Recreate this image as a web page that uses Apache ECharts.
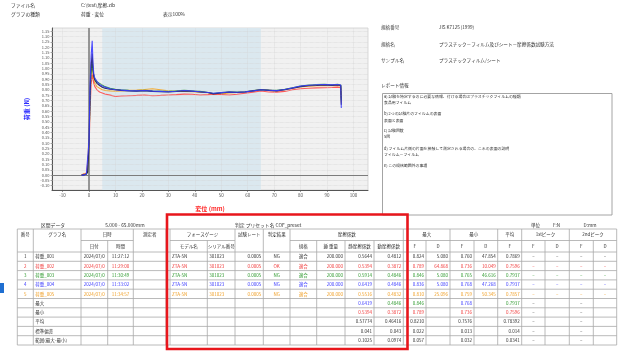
<!DOCTYPE html>
<html>
<head>
<meta charset="utf-8">
<script src="https://cdn.jsdelivr.net/npm/echarts@6/dist/echarts.min.js"></script>
<style>
html,body{margin:0;padding:0;background:#fff;}
#c{width:623px;height:352px;}
</style>
</head>
<body>
<div id="c"></div>
<script>
const FONT = '"Noto Sans CJK JP", "Noto Sans", sans-serif';

// ---- load / displacement traces ----
const disp = [-2.8, -2, -1, -0.5, 0, 0.4, 0.8, 1.2, 1.5, 1.8, 2.2, 3, 4, 5, 6, 8, 10, 12, 15, 18, 21, 24, 27, 30, 33, 36, 39, 42, 45, 47, 50, 53, 56, 59, 62, 65, 68, 71, 74, 77, 80, 83, 86, 89, 92, 94, 95.2, 95.4];
const load001 = [0.00, 0.00, 0.01, 0.03, 0.30, 0.78, 1.02, 1.14, 1.00, 0.93, 0.89, 0.86, 0.84, 0.824, 0.815, 0.805, 0.800, 0.795, 0.790, 0.788, 0.792, 0.785, 0.782, 0.780, 0.784, 0.790, 0.786, 0.780, 0.775, 0.762, 0.770, 0.778, 0.775, 0.780, 0.790, 0.800, 0.795, 0.790, 0.800, 0.815, 0.830, 0.838, 0.840, 0.845, 0.842, 0.845, 0.840, 0.660];
const load002 = [0.00, 0.01, 0.01, 0.02, 0.22, 0.62, 0.85, 0.95, 0.90, 0.86, 0.83, 0.80, 0.78, 0.770, 0.760, 0.750, 0.738, 0.742, 0.745, 0.748, 0.752, 0.745, 0.748, 0.752, 0.755, 0.760, 0.758, 0.752, 0.755, 0.760, 0.756, 0.752, 0.758, 0.768, 0.778, 0.789, 0.780, 0.778, 0.785, 0.800, 0.810, 0.815, 0.818, 0.820, 0.822, 0.825, 0.820, 0.720];
const load003 = [0.00, 0.00, 0.01, 0.03, 0.28, 0.74, 0.98, 1.06, 0.98, 0.93, 0.90, 0.875, 0.86, 0.846, 0.830, 0.815, 0.805, 0.800, 0.795, 0.792, 0.795, 0.790, 0.788, 0.785, 0.790, 0.795, 0.790, 0.785, 0.775, 0.765, 0.775, 0.780, 0.778, 0.782, 0.792, 0.800, 0.797, 0.795, 0.805, 0.820, 0.835, 0.845, 0.850, 0.852, 0.848, 0.852, 0.845, 0.700];
const load004 = [0.00, 0.00, 0.01, 0.02, 0.32, 0.85, 1.12, 1.26, 1.05, 0.95, 0.91, 0.88, 0.85, 0.836, 0.825, 0.810, 0.800, 0.797, 0.792, 0.790, 0.793, 0.788, 0.785, 0.782, 0.787, 0.793, 0.788, 0.782, 0.775, 0.768, 0.774, 0.779, 0.777, 0.781, 0.790, 0.800, 0.796, 0.792, 0.803, 0.818, 0.835, 0.843, 0.848, 0.850, 0.846, 0.850, 0.845, 0.630];
const load005 = [0.00, 0.01, 0.02, 0.05, 0.45, 0.88, 1.05, 1.10, 0.95, 0.89, 0.86, 0.83, 0.815, 0.800, 0.795, 0.790, 0.788, 0.790, 0.795, 0.798, 0.803, 0.810, 0.800, 0.790, 0.788, 0.785, 0.782, 0.778, 0.772, 0.765, 0.760, 0.770, 0.775, 0.780, 0.790, 0.800, 0.795, 0.790, 0.800, 0.815, 0.828, 0.835, 0.838, 0.840, 0.838, 0.840, 0.835, 0.680];

const graphNames = ['荷重_001', '荷重_002', '荷重_003', '荷重_004', '荷重_005'];
const traceColors = ['#1c1c3c', '#ff4a4a', '#2f9a2f', '#3a3aff', '#f5a623'];
const textColors = ['#333333', '#f03a3a', '#2f9a2f', '#3a3aff', '#f0a028'];

const xTicks = [-10, 0, 10, 20, 30, 40, 50, 60, 70, 80, 90, 100];
const yTicks = [-0.10, -0.05, 0.00, 0.05, 0.10, 0.15, 0.20, 0.25, 0.30, 0.35, 0.40, 0.45, 0.50, 0.55, 0.60, 0.65, 0.70, 0.75, 0.80, 0.85, 0.90, 0.95, 1.00, 1.05, 1.10, 1.15, 1.20, 1.25, 1.30, 1.35];
const bandRange = [5, 65];

// ---- header info ----
const fileInfo = [['ファイル名', 'C:\\test\\摩擦.zlb', ''], ['グラフの種類', '荷重 - 変位', '表示100%']];
const standardInfo = [['規格番号', 'JIS K7125 (1999)'], ['規格名', 'プラスチック－フィルム及びシート－摩擦係数試験方法'], ['サンプル名', 'プラスチックフィルム/シート']];
const reportTitle = 'レポート情報';
const reportLines = ['a) 試験を特定するのに必要な情報、付ける場合はプラスチックフィルムの種類', '食品用フィルム', 'b) 2つの試験片のフィルムの表面', '表面と表面', 'c) 試験回数', '5回', 'd) フィルム片側の片面を接触して測定される場合の、これの表面の説明', 'フィルム－フィルム', 'e) この規格範囲外の事項'];

// ---- result table ----
const sectionTitle = ['区間データ', '5.000 - 65.000mm'];
const presetTitle = '判定 プリセット名 COF_preset';
const unitTitle = ['単位', 'F:N', 'D:mm'];
const rowNo = ['1', '2', '3', '4', '5'];
const dates = ['2024/07/0', '2024/07/0', '2024/07/0', '2024/07/0', '2024/07/0'];
const times = ['11:27:12', '11:29:00', '11:30:49', '11:33:02', '11:34:57'];
const models = ['ZTA-5N', 'ZTA-5N', 'ZTA-5N', 'ZTA-5N', 'ZTA-5N'];
const serials = ['301023', '301023', '301023', '301023', '301023'];
const rates = ['0.0005', '0.0005', '0.0005', '0.0005', '0.0005'];
const judges = ['NG', 'OK', 'NG', 'NG', 'NG'];
const standards = ['適合', '適合', '適合', '適合', '適合'];
const weights = ['200.000', '200.000', '200.000', '200.000', '200.000'];
const staticCoef = ['0.5644', '0.5394', '0.5914', '0.6419', '0.5516'];
const kineticCoef = ['0.4812', '0.3872', '0.4846', '0.4846', '0.4832'];
const maxF = ['0.824', '0.789', '0.846', '0.836', '0.810'];
const maxD = ['5.080', '64.868', '5.080', '5.080', '25.096'];
const minF = ['0.760', '0.736', '0.765', '0.768', '0.759'];
const minD = ['47.854', '10.049', '46.616', '47.268', '50.345'];
const avgF = ['0.7869', '0.7596', '0.7937', '0.7937', '0.7857'];
const peak1F = ['–', '–', '–', '–', '–'];
const peak1D = ['–', '–', '–', '–', '–'];
const peak2F = ['–', '–', '–', '–', '–'];
const peak2D = ['–', '–', '–', '–', '–'];

const summaryLabels = ['最大', '最小', '平均', '標準偏差', '範囲(最大-最小)'];
const sumStatic = ['0.6419', '0.5394', '0.57774', '0.041', '0.1025'];
const sumKinetic = ['0.4846', '0.3872', '0.46416', '0.043', '0.0974'];
const sumMaxF = ['0.846', '0.789', '0.8210', '0.022', '0.057'];
const sumMinF = ['0.768', '0.736', '0.7576', '0.013', '0.032'];
const sumAvgF = ['0.7937', '0.7596', '0.78392', '0.014', '0.0341'];
const sumPeak1F = ['–', '–', '–', '–', '–'];
const sumPeak2F = ['–', '–', '–', '–', '–'];
// which trace each summary value comes from (colour), -1 = plain
const sumSource = {
  static: [3, 1, -1, -1, -1],
  kinetic: [2, 1, -1, -1, -1],
  maxF: [2, 1, -1, -1, -1],
  minF: [3, 1, -1, -1, -1],
  avgF: [2, 1, -1, -1, -1]
};

const headRow1 = [['番号', 0, 1], ['グラフ名', 1, 2], ['日時', 2, 4], ['測定者', 4, 5], ['フォースゲージ', 6, 8], ['試験レート', 8, 9], ['判定結果', 9, 10], ['摩擦係数', 10, 14], ['最大', 14, 16], ['最小', 16, 18], ['平均', 18, 19], ['1stピーク', 19, 21], ['2ndピーク', 21, 23]];
const headRow2 = [['日付', 2, 3], ['時間', 3, 4], ['モデル名', 6, 7], ['シリアル番号', 7, 8], ['規格', 10, 11], ['錘 重量', 11, 12], ['静摩擦係数', 12, 13], ['動摩擦係数', 13, 14], ['F', 14, 15], ['D', 15, 16], ['F', 16, 17], ['D', 17, 18], ['F', 18, 19], ['F', 19, 20], ['D', 20, 21], ['F', 21, 22], ['D', 22, 23]];

// ---------------- drawing helpers ----------------
const G = [];
function txt(x, y, s, o) {
  o = o || {};
  const align = o.align || 'left';
  G.push({
    type: 'text', x: x, y: y, silent: true, z: 100,
    style: {
      text: s, fill: o.color || '#333', font: (o.weight || 'normal') + ' ' + (o.size || 4.6) + 'px ' + FONT,
      textAlign: align, align: align, textVerticalAlign: 'middle', verticalAlign: 'middle'
    }
  });
}
function hline(x1, x2, y, c, w) {
  G.push({ type: 'line', silent: true, z: 90, shape: { x1: x1, y1: y, x2: x2, y2: y }, style: { stroke: c || '#a8a8a8', lineWidth: w || 0.8 } });
}
function vline(x, y1, y2, c, w) {
  G.push({ type: 'line', silent: true, z: 90, shape: { x1: x, y1: y1, x2: x, y2: y2 }, style: { stroke: c || '#a8a8a8', lineWidth: w || 0.8 } });
}

// file info
fileInfo.forEach((r, i) => {
  const y = 5 + i * 9.5;
  txt(11, y, r[0], { size: 4.8 });
  txt(81, y, r[1], { size: 4.8 });
  if (r[2]) txt(163, y, r[2], { size: 4.8 });
});

// standard info
standardInfo.forEach((r, i) => {
  const y = 27.5 + i * 16.5;
  txt(381, y, r[0], { size: 4.6 });
  txt(439, y, r[1], { size: 4.6 });
});
txt(381, 85, reportTitle, { size: 4.6 });
G.push({ type: 'rect', silent: true, z: 90, shape: { x: 382.5, y: 93.5, width: 229.5, height: 121.5 }, style: { fill: '#fff', stroke: '#9a9a9a', lineWidth: 0.9 } });
const reportY = [97, 103, 114, 120.5, 131, 137, 148.5, 155, 165.5];
reportLines.forEach((s, i) => txt(384, reportY[i], s, { size: 3.9 }));

// table frame
const E = [17.3, 33.3, 81, 107.7, 133.3, 166, 170, 207.3, 235, 263.3, 290, 316.7, 345, 374, 403.3, 426, 450, 474, 497.7, 521.7, 545, 569.3, 593.3, 616.7];
const TOP = 229, MID = 240.5, HEAD = 252, RH = 9.3, NROWS = 10;
const BOTTOM = HEAD + RH * NROWS;

txt(53, 225, sectionTitle[0], { align: 'center', size: 4.8 });
txt(125, 225, sectionTitle[1], { align: 'center', size: 4.8 });
txt(235, 225, presetTitle, { size: 4.8 });
txt(531, 225, unitTitle[0], { size: 4.6 });
txt(556.5, 225, unitTitle[1], { align: 'center', size: 4.6 });
txt(590, 225, unitTitle[2], { align: 'center', size: 4.6 });

hline(E[0], E[23], TOP);
hline(E[2], E[4], MID);
hline(E[6], E[8], MID);
hline(E[10], E[23], MID);
for (let i = 0; i <= NROWS; i++) hline(E[0], E[23], HEAD + RH * i);
[0, 1, 2, 4, 5, 6, 8, 9, 10, 14, 16, 18, 19, 21, 23].forEach(k => vline(E[k], TOP, BOTTOM));
[3, 7, 11, 12, 13, 15, 17, 20, 22].forEach(k => vline(E[k], MID, BOTTOM));

const yH1 = (TOP + MID) / 2, yH2 = (MID + HEAD) / 2;
headRow1.forEach(h => txt((E[h[1]] + E[h[2]]) / 2, yH1, h[0], { align: 'center', size: 4.5 }));
headRow2.forEach(h => txt((E[h[1]] + E[h[2]]) / 2, yH2, h[0], { align: 'center', size: 4.5 }));

function cell(l, r, y, s, align, color) {
  const x = align === 'left' ? E[l] + 2 : align === 'right' ? E[r] - 2 : (E[l] + E[r]) / 2;
  txt(x, y, s, { align: align, color: color, size: 4.5 });
}
const dataCols = [
  [0, 1, 'center', rowNo], [1, 2, 'left', graphNames], [2, 3, 'center', dates], [3, 4, 'center', times],
  [6, 7, 'left', models], [7, 8, 'left', serials], [8, 9, 'right', rates], [9, 10, 'center', judges],
  [10, 11, 'center', standards], [11, 12, 'right', weights], [12, 13, 'right', staticCoef], [13, 14, 'right', kineticCoef],
  [14, 15, 'right', maxF], [15, 16, 'right', maxD], [16, 17, 'right', minF], [17, 18, 'right', minD],
  [18, 19, 'right', avgF], [19, 20, 'center', peak1F], [20, 21, 'center', peak1D], [21, 22, 'center', peak2F], [22, 23, 'center', peak2D]
];
for (let i = 0; i < 5; i++) {
  const y = HEAD + RH * i + RH / 2;
  dataCols.forEach(c => cell(c[0], c[1], y, c[3][i], c[2], textColors[i]));
}
const sumCols = [
  [12, 13, sumStatic, 'static'], [13, 14, sumKinetic, 'kinetic'], [14, 15, sumMaxF, 'maxF'],
  [16, 17, sumMinF, 'minF'], [18, 19, sumAvgF, 'avgF']
];
for (let i = 0; i < 5; i++) {
  const y = HEAD + RH * (5 + i) + RH / 2;
  cell(1, 2, y, summaryLabels[i], 'left', '#333');
  sumCols.forEach(c => {
    const src = sumSource[c[3]][i];
    cell(c[0], c[1], y, c[2][i], 'right', src >= 0 ? textColors[src] : '#333');
  });
  cell(19, 20, y, sumPeak1F[i], 'center', '#333');
  cell(21, 22, y, sumPeak2F[i], 'center', '#333');
}

// highlight frame and side marker
G.push({ type: 'rect', silent: true, z: 110, shape: { x: 167, y: 214.5, width: 240.5, height: 134.5 }, style: { fill: 'none', stroke: '#e8161c', lineWidth: 2.6 } });
G.push({ type: 'rect', silent: true, z: 110, shape: { x: 0, y: 283, width: 4, height: 10 }, style: { fill: '#1f6fd1' } });

// ---------------- chart ----------------
const traces = [load001, load002, load003, load004, load005];
const zOrder = [5, 3, 4, 6, 2];
const lineSeries = traces.map((vals, i) => ({
  type: 'line', name: graphNames[i], silent: true, z: zOrder[i],
  data: disp.map((x, j) => [x, vals[j]]),
  showSymbol: false, symbol: 'none',
  lineStyle: { color: traceColors[i], width: 1.1, opacity: 0.9 }
}));

const guideSeries = {
  type: 'line', data: [], silent: true, z: 1,
  markArea: {
    silent: true,
    itemStyle: { color: '#dbe8ef' },
    data: [[{ xAxis: bandRange[0] }, { xAxis: bandRange[1] }]]
  },
  markLine: {
    silent: true, symbol: ['none', 'none'], label: { show: false },
    lineStyle: { type: 'dotted', color: '#d2d2d2', width: 0.6 },
    data: xTicks.map(v => ({ xAxis: v })).concat(yTicks.map(v => ({ yAxis: v })))
  }
};
const zeroSeries = {
  type: 'line', data: [], silent: true, z: 2,
  markLine: {
    silent: true, symbol: ['none', 'none'], label: { show: false },
    data: [
      { xAxis: 0, lineStyle: { type: 'solid', color: '#8c8c8c', width: 1.8 } },
      { yAxis: 0, lineStyle: { type: 'solid', color: '#7c7c7c', width: 1.2 } }
    ]
  }
};

const chart = echarts.init(document.getElementById('c'), null, { renderer: 'canvas' });
chart.setOption({
  animation: false,
  backgroundColor: '#ffffff',
  textStyle: { fontFamily: FONT },
  grid: { left: 52, top: 28, width: 316, height: 162, show: true, backgroundColor: '#f1f1f1', borderColor: '#cfcfcf', borderWidth: 0.8 },
  xAxis: {
    type: 'value', min: -14, max: 105.5,
    name: '変位 (mm)', nameLocation: 'middle', nameGap: 15.5,
    nameTextStyle: { color: '#ff2a2a', fontSize: 6, fontWeight: 'bold', fontFamily: FONT },
    axisLine: { show: true, onZero: false, lineStyle: { color: '#555', width: 1 } },
    axisTick: { show: true, length: 2, customValues: xTicks, lineStyle: { color: '#555', width: 0.6 } },
    axisLabel: { customValues: xTicks, fontSize: 4.5, color: '#555', margin: 3.5, formatter: v => String(v) },
    splitLine: { show: false }
  },
  yAxis: {
    type: 'value', min: -0.14, max: 1.38,
    name: '荷重 (N)', nameLocation: 'middle', nameGap: 19,
    nameTextStyle: { color: '#2a2aff', fontSize: 6, fontWeight: 'bold', fontFamily: FONT },
    axisLine: { show: true, onZero: false, lineStyle: { color: '#555', width: 1 } },
    axisTick: { show: true, length: 1.5, customValues: yTicks, lineStyle: { color: '#555', width: 0.5 } },
    axisLabel: { customValues: yTicks, fontSize: 4, color: '#555', margin: 2.5, formatter: v => v.toFixed(2) },
    splitLine: { show: false }
  },
  series: [guideSeries, zeroSeries].concat(lineSeries),
  graphic: { elements: G }
});
</script>
</body>
</html>
